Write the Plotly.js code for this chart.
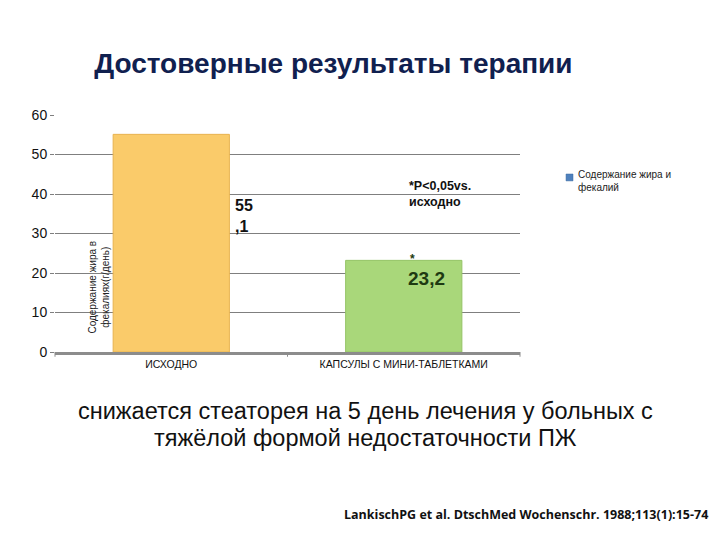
<!DOCTYPE html>
<html><head><meta charset="utf-8">
<script src="https://cdn.plot.ly/plotly-3.0.1.min.js"></script>
<style>html,body{margin:0;padding:0;background:#fff;}#chart{width:720px;height:540px;}</style>
</head><body><div id="chart"></div>
<script>
const categories = ["ИСХОДНО", "КАПСУЛЫ С МИНИ-ТАБЛЕТКАМИ"];
const values = [55.1, 23.2];
const barColors = ["#FACB6A", "#A9D77A"];
const yTicks = [0, 10, 20, 30, 40, 50, 60];
const seriesName = "Содержание жира и<br>фекалий";
const fmt = v => v.toFixed(1).replace(".", ",");

const trace = {
  type: "bar", x: categories, y: values, width: 0.5,
  marker: {color: barColors, line: {color: ["#E8B350", "#95C466"], width: 1}},
  showlegend: false, hoverinfo: "none"
};

const s0 = fmt(values[0]).split(",");
const layout = {
  width: 720, height: 540,
  margin: {l: 55, r: 200, t: 115, b: 188},
  paper_bgcolor: "#fff", plot_bgcolor: "#fff",
  font: {family: "Liberation Sans, Arial, sans-serif", color: "#000"},
  title: {text: "<b>Достоверные результаты терапии</b>", x: 0.463, xanchor: "center", y: 0.883, yanchor: "middle",
          font: {size: 28, color: "#10204F", family: "Liberation Sans, Arial, sans-serif"}},
  xaxis: {type: "category", showgrid: false, showline: true, linecolor: "#8C8C8C", linewidth: 3,
          ticks: "", tickfont: {size: 10.5, color: "#111"}, fixedrange: true},
  yaxis: {range: [0, 60], tickvals: yTicks, showgrid: true, gridcolor: "#7F7F7F", gridwidth: 1,
          zeroline: false, showline: false, ticks: "outside", ticklen: 4, tickcolor: "#7F7F7F",
          tickfont: {size: 14, color: "#111"}, fixedrange: true},
  shapes: [
    {type: "line", xref: "paper", yref: "paper", x0: 0.5, x1: 0.5, y0: 0, y1: -0.02, line: {color: "#8C8C8C", width: 1}},
    {type: "line", xref: "paper", yref: "paper", x0: 1, x1: 1, y0: 0, y1: -0.02, line: {color: "#8C8C8C", width: 1}},
    {type: "line", xref: "paper", yref: "paper", x0: 0, x1: 0, y0: 0, y1: -0.02, line: {color: "#8C8C8C", width: 1}},
    {type: "rect", xref: "paper", yref: "paper", x0: 1.099, x1: 1.114, y0: 0.722, y1: 0.751, fillcolor: "#4F81BD", line: {color: "#3A6AA0", width: 0.5}}
  ],
  annotations: [
    {xref: "x", yref: "y", x: categories[0], y: 34.4, xshift: 73, text: "<b>" + s0[0] + "<br>," + s0[1] + "</b>",
     showarrow: false, align: "left", font: {size: 16, color: "#111"}},
    {xref: "x", yref: "y", x: categories[1], y: 18.6, xshift: 23, text: "<b>" + fmt(values[1]) + "</b>",
     showarrow: false, font: {size: 19, color: "#1E3A12"}},
    {xref: "x", yref: "y", x: categories[1], y: 23.6, xshift: 9, text: "<b>*</b>",
     showarrow: false, font: {size: 12, color: "#1E3A12"}},
    {xref: "x", yref: "y", x: categories[1], y: 39.9, xshift: 3, xanchor: "left", text: "<b>*P&lt;0,05vs.<br>исходно</b>",
     showarrow: false, align: "left", font: {size: 12.5, color: "#111"}},
    {xref: "paper", yref: "y", x: 0.064, y: 16.5, text: "Содержание жира в<br>фекалиях(г/день)", textangle: -90,
     showarrow: false, font: {size: 10, color: "#222"}},
    {xref: "paper", yref: "paper", x: 1.12, y: 0.72, xanchor: "left", yanchor: "middle", align: "left",
     text: seriesName, showarrow: false, font: {size: 10, color: "#222"}},
    {xref: "paper", yref: "paper", x: 0.667, y: -0.249, xanchor: "center", yanchor: "middle",
     text: "снижается стеаторея на 5 день лечения у больных с",
     showarrow: false, font: {size: 23.5, color: "#111"}},
    {xref: "paper", yref: "paper", x: 0.667, y: -0.363, xanchor: "center", yanchor: "middle",
     text: "тяжёлой формой недостаточности ПЖ",
     showarrow: false, font: {size: 23.5, color: "#111"}},
    {xref: "paper", yref: "paper", x: 0.618, y: -0.684, xanchor: "left", yanchor: "middle", align: "left",
     text: "<b>LankischPG et al. DtschMed Wochenschr. 1988;113(1):15-74</b>",
     showarrow: false, font: {size: 12.5, color: "#111", family: "Open Sans, Liberation Sans, sans-serif"}}
  ]
};
Plotly.newPlot("chart", [trace], layout, {displayModeBar: false, staticPlot: true});
</script></body></html>
